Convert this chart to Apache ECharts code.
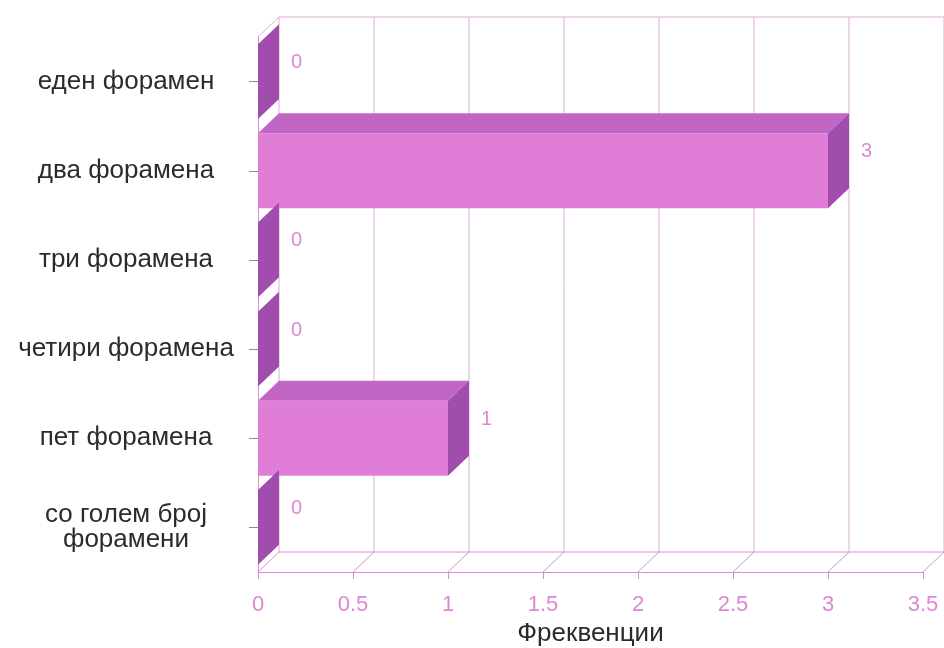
<!DOCTYPE html>
<html>
<head>
<meta charset="utf-8">
<script src="https://cdn.jsdelivr.net/npm/echarts@6/dist/echarts.min.js"></script>
<style>
  html, body { margin: 0; padding: 0; background: #ffffff; }
  #chart { width: 944px; height: 648px; }
</style>
</head>
<body>
<div id="chart"></div>
<script>
// Number of foramina per specimen group
const categories = [
  'еден форамен',
  'два форамена',
  'три форамена',
  'четири форамена',
  'пет форамена',
  'со голем број\nфорамени'
];
const frequencies = [0, 3, 0, 0, 1, 0];
const xTicks = [0, 0.5, 1, 1.5, 2, 2.5, 3, 3.5];

// Pseudo-3D depth of the plot box (pixels)
const DX = 21, DY = -20;
const BAR_RATIO = 0.84;

const FRONT = '#E07ED7';
const TOP = '#C266C5';
const SIDE = '#A04DAE';
const PINK_TEXT = '#DC88D4';
const GRID = '#D9ADD9';
const AXIS = '#D98ED4';
const FONT = '"Liberation Sans", Arial, sans-serif';

function renderWall(params, api) {
  const cs = params.coordSys;
  const x = api.coord([api.value(0), 0])[0];
  const yTop = cs.y, yBot = cs.y + cs.height;
  const line = (x1, y1, x2, y2, color) => ({
    type: 'line', silent: true,
    shape: { x1, y1, x2, y2 },
    style: { stroke: color, lineWidth: 1 }
  });
  const children = [
    line(x + DX, yTop + DY, x + DX, yBot + DY, GRID),
    line(x, yBot, x + DX, yBot + DY, AXIS)
  ];
  if (params.dataIndex === 0) {
    children.push(line(cs.x + DX, yTop + DY, cs.x + cs.width + DX, yTop + DY, GRID));
    children.push(line(cs.x + DX, yBot + DY, cs.x + cs.width + DX, yBot + DY, AXIS));
    children.push(line(cs.x, yTop, cs.x + DX, yTop + DY, GRID));
  }
  return { type: 'group', children };
}

function renderBar(params, api) {
  const val = api.value(0);
  const cat = api.value(1);
  const p0 = api.coord([0, cat]);
  const p1 = api.coord([val, cat]);
  const band = api.size([0, 1])[1];
  const h = band * BAR_RATIO;
  const top = p0[1] - h / 2, bot = p0[1] + h / 2;
  const x0 = p0[0], x1 = p1[0];
  const children = [];
  if (x1 > x0) {
    children.push({
      type: 'polygon',
      shape: { points: [[x0, top], [x0 + DX, top + DY], [x1 + DX, top + DY], [x1, top]] },
      style: { fill: TOP }
    });
    children.push({
      type: 'rect',
      shape: { x: x0, y: top, width: x1 - x0, height: h },
      style: { fill: FRONT }
    });
  }
  children.push({
    type: 'polygon',
    shape: { points: [[x1, top], [x1 + DX, top + DY], [x1 + DX, bot + DY], [x1, bot]] },
    style: { fill: SIDE }
  });
  children.push({
    type: 'text',
    style: {
      text: String(val),
      x: x1 + DX + 12, y: p0[1] - 19,
      verticalAlign: 'middle', align: 'left',
      fill: PINK_TEXT, font: '20px ' + FONT
    }
  });
  return { type: 'group', children };
}

const chart = echarts.init(document.getElementById('chart'), null, { renderer: 'canvas' });
chart.setOption({
  animation: false,
  backgroundColor: '#ffffff',
  grid: {
    left: 258, right: 21, top: 37, bottom: 76,
    containLabel: false, outerBoundsMode: 'none'
  },
  xAxis: {
    type: 'value', min: 0, max: 3.5, interval: 0.5,
    name: 'Фреквенции', nameLocation: 'middle', nameGap: 47,
    nameTextStyle: { fontSize: 26, color: '#2a2a2a', fontFamily: FONT },
    axisLine: { show: true, lineStyle: { color: AXIS, width: 1 } },
    axisTick: { show: true, length: 7, lineStyle: { color: AXIS } },
    axisLabel: { fontSize: 22, color: PINK_TEXT, margin: 22, fontFamily: FONT },
    splitLine: { show: false }
  },
  yAxis: {
    type: 'category', inverse: true, data: categories,
    axisLine: { show: true, lineStyle: { color: AXIS, width: 1 } },
    axisTick: { show: true, alignWithLabel: true, length: 9, lineStyle: { color: '#8a8a8a' } },
    axisLabel: {
      fontSize: 26, color: '#2b2b2b', fontFamily: FONT,
      align: 'center', margin: 132, lineHeight: 25
    },
    splitLine: { show: false }
  },
  series: [
    {
      type: 'custom', name: 'wall', silent: true, clip: false, z: 1,
      renderItem: renderWall,
      encode: { x: 0 },
      data: xTicks.map(v => [v])
    },
    {
      type: 'custom', name: 'Фреквенции', clip: false, z: 3,
      renderItem: renderBar,
      encode: { x: 0, y: 1 },
      data: frequencies.map((v, i) => [v, i])
    }
  ]
});
</script>
</body>
</html>
